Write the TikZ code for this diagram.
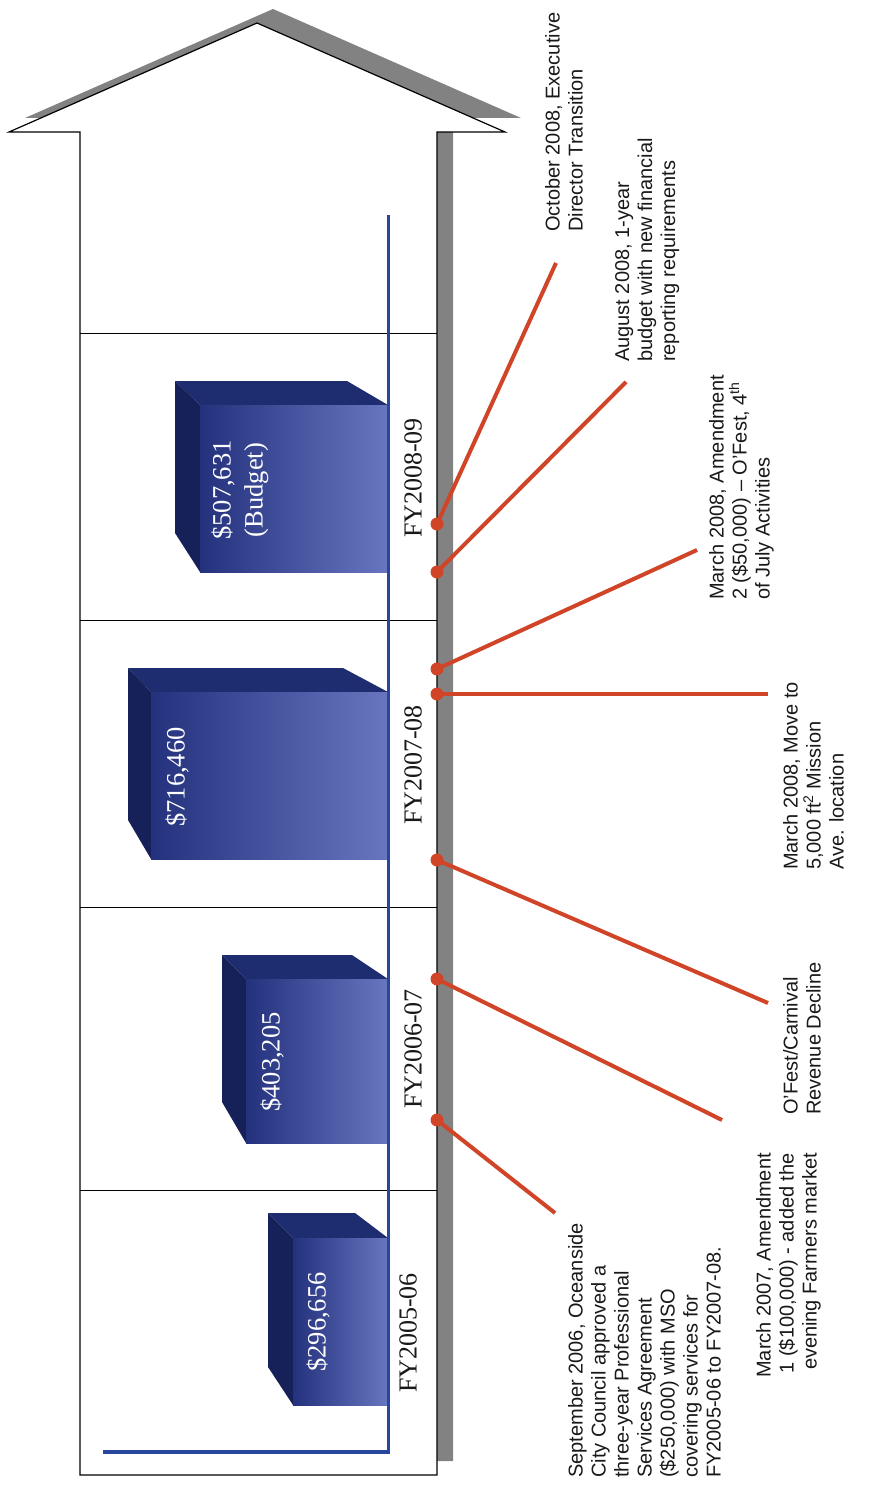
\documentclass[tikz,border=0pt]{standalone}
\usepackage{fontspec}
\setmainfont{Liberation Serif}
\newfontfamily\arialf{Liberation Sans}
\definecolor{axisblue}{RGB}{40,70,155}
\definecolor{redl}{RGB}{208,68,40}
\definecolor{shadowgray}{RGB}{130,130,130}
\definecolor{bfrontA}{RGB}{36,50,126}
\definecolor{bfrontB}{RGB}{104,118,192}
\definecolor{btop}{RGB}{30,44,112}
\definecolor{bside}{RGB}{22,33,90}
\newcommand\barbox[7]{%
  % #1 front left x, #2 front top y, #3 front bottom y, #4 back top y, #5 back left x, #6 back top-right x, #7 back bottom y
  \fill[btop] (#5,#4) -- (#6,#4) -- (388,#2) -- (#1,#2) -- cycle;
  \fill[bside] (#5,#4) -- (#1,#2) -- (#1,#3) -- (#5,#7) -- cycle;
  \shade[left color=bfrontA, right color=bfrontB] (#1,#2) rectangle (388,#3);
}
\begin{document}
\begin{tikzpicture}[x=1pt,y=-1pt,
  sidetxt/.style={font=\arialf\fontsize{20}{23}\selectfont, rotate=90, inner sep=0pt, text=black!90},
  fytxt/.style={font=\fontsize{26}{31}\selectfont, rotate=90, inner sep=0pt, text=black!90},
  valtxt/.style={font=\fontsize{26.5}{32}\selectfont, rotate=90, inner sep=0pt, text=white, align=center},
  callout/.style={draw=redl, line width=4pt},
  wall/.style={draw=black, line width=1.2pt},
  divider/.style={draw=black, line width=1pt}]
\useasboundingbox (0,0) rectangle (875,1485);
\fill[white] (0,0) rectangle (875,1485);

% house shadow and house
\fill[shadowgray, shift={(16,-14)}] (9,132) -- (257,23) -- (505,132) -- (437,132) -- (437,1475) -- (80,1475) -- (80,132) -- cycle;
\draw[wall, fill=white] (9,132) -- (257,23) -- (505,132) -- (437,132) -- (437,1475) -- (80,1475) -- (80,132) -- cycle;

% dividers
\foreach \yy in {333,620,907,1190} \draw[divider] (80,\yy) -- (437,\yy);

% bars
\barbox{293}{1238}{1405}{1213}{268}{355}{1367}
\barbox{246}{979}{1143}{955}{222}{352}{1102}
\barbox{151}{692}{859}{668}{128}{343}{820}
\barbox{200}{405}{572}{381}{175}{347}{533}

% axis
\coordinate (axtop) at (388,215);
\coordinate (axcorner) at (388,1452);
\coordinate (axend) at (103,1452);
\draw[axisblue, line width=3pt] (axtop) -- (axcorner);
\draw[axisblue, line width=4.5pt] ([xshift=1.5pt]axcorner) -- (axend);

% value labels
\node[valtxt] (v1) at (318,1322) {\$296,656};
\node[valtxt] (v2) at (272,1062) {\$403,205};
\node[valtxt] (v3) at (177,777) {\$716,460};
\node[valtxt] (v4) at (240,490) {\$507,631\\(Budget)};

% year labels
\node[fytxt] (fy1) at (408,1333) {FY2005-06};
\node[fytxt] (fy2) at (413,1049) {FY2006-07};
\node[fytxt] (fy3) at (413,765) {FY2007-08};
\node[fytxt] (fy4) at (413,478) {FY2008-09};

% side texts
\node[sidetxt, anchor=north west, align=left] (tsep) at (568,1478) {September 2006, Oceanside\\City Council approved a\\three-year Professional\\Services Agreement\\(\$250,000) with MSO\\covering services for\\FY2005-06 to FY2007-08.};
\node[sidetxt, anchor=north east, align=right] (tmar7) at (756,1153) {March 2007, Amendment\\1 (\$100,000) - added the\\evening Farmers market};
\node[sidetxt, anchor=north west, align=left] (tofest) at (783,1115) {O’Fest/Carnival\\Revenue Decline};
\node[sidetxt, anchor=north west, align=left] (tmove) at (783,870) {March 2008, Move to\\5,000 ft\textsuperscript{2} Mission\\Ave. location};
\node[sidetxt, anchor=north west, align=left] (tamend) at (709,600) {March 2008, Amendment\\2 (\$50,000) – O’Fest, 4\textsuperscript{th}\\of July Activities};
\node[sidetxt, anchor=north west, align=left] (taug) at (615,362) {August 2008, 1-year\\budget with new financial\\reporting requirements};
\node[sidetxt, anchor=north west, align=left] (toct) at (545,232) {October 2008, Executive\\Director Transition};

% callouts
\coordinate (d1) at (437,1120); \coordinate (e1) at (555,1213);
\coordinate (d2) at (437,979);  \coordinate (e2) at (722,1120);
\coordinate (d3) at (437,860);  \coordinate (e3) at (768,1003);
\coordinate (d4) at (437,694);  \coordinate (e4) at (768,694);
\coordinate (d5) at (437,669);  \coordinate (e5) at (697,550);
\coordinate (d6) at (437,572);  \coordinate (e6) at (626,382);
\coordinate (d7) at (437,524);  \coordinate (e7) at (556,263);
\foreach \i in {1,...,7} {
  \draw[callout] (d\i) -- (e\i);
  \fill[redl] (d\i) circle (6.5);
}
\end{tikzpicture}
\end{document}
